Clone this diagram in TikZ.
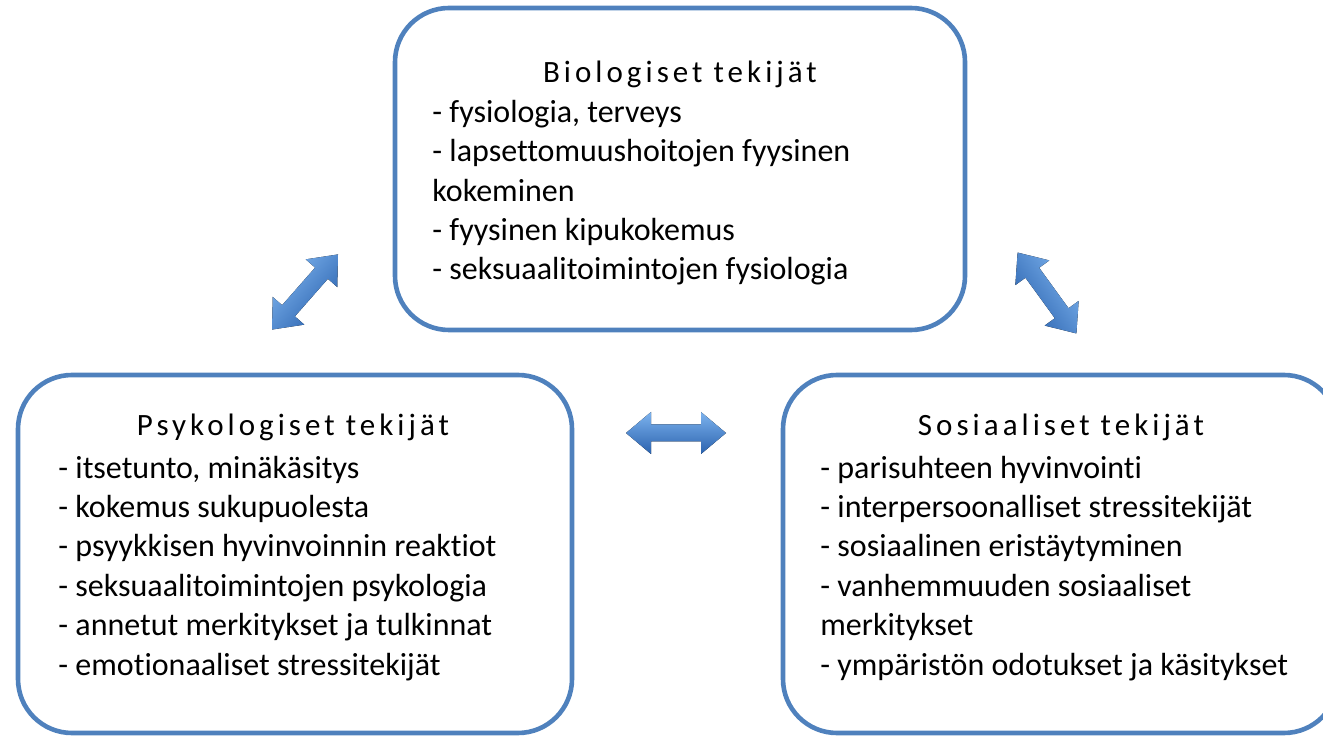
\documentclass[tikz,border=0pt]{standalone}
\usepackage{fontspec}
\setmainfont{Carlito}[Ligatures=NoCommon]
\newfontfamily\spacedfont[LetterSpace=13,Ligatures=NoCommon]{Carlito}
\usetikzlibrary{positioning}
\definecolor{boxblue}{HTML}{4F81BD}
\definecolor{arrowlight}{HTML}{7DB3EE}
\definecolor{arrowmid}{HTML}{4A88D4}
\definecolor{arrowdark}{HTML}{2A62AE}

\tikzset{
  factor/.style={draw=boxblue, line width=2.3pt, rounded corners=27pt, inner sep=0pt},
  heading/.style={font=\spacedfont\fontsize{15.5}{20}\selectfont, anchor=base, inner sep=0pt},
  items/.style={font=\fontsize{16}{19.7}\selectfont, align=left, anchor=base west, inner sep=0pt},
  biarrow/.style={top color=arrowlight, middle color=arrowmid, bottom color=arrowdark, draw=none}
}

\begin{document}
\begin{tikzpicture}[x=0.5pt,y=-0.5pt]
\useasboundingbox (0,0) rectangle (1323,737);
\clip (0,0) rectangle (1323,737);

% Factor boxes
\node[factor, minimum width=285pt, minimum height=161pt] (bio) at (680,169) {};
\node[factor, minimum width=277pt, minimum height=179pt] (psy) at (295,554) {};
\node[factor, minimum width=277.5pt, minimum height=179pt] (sos) at (1060.5,554) {};

% Headings
\node[heading] (bio title) at (680,83) {Biologiset tekijät};
\node[heading] (psy title) at (293,436) {Psykologiset tekijät};
\node[heading] (sos title) at (1061,436) {Sosiaaliset tekijät};

% Item lists (anchored at the last line)
\node[items] (bio items) at (432,280) {- fysiologia, terveys\\
  - lapsettomuushoitojen fyysinen\\ kokeminen\\
  - fyysinen kipukokemus\\
  - seksuaalitoimintojen fysiologia};
\node[items] (psy items) at (58,675) {- itsetunto, minäkäsitys\\
  - kokemus sukupuolesta\\
  - psyykkisen hyvinvoinnin reaktiot\\
  - seksuaalitoimintojen psykologia\\
  - annetut merkitykset ja tulkinnat\\
  - emotionaaliset stressitekijät};
\node[items] (sos items) at (820,675) {- parisuhteen hyvinvointi\\
  - interpersoonalliset stressitekijät\\
  - sosiaalinen eristäytyminen\\
  - vanhemmuuden sosiaaliset\\ merkitykset\\
  - ympäristön odotukset ja käsitykset};

% Two-way arrows between the boxes
\foreach \cx/\cy/\ang in {305/292/48.7, 1047/293/-54, 676/433/0}{
  \begin{scope}[shift={(\cx,\cy)}, rotate=\ang]
    \fill[biarrow, shading angle=\ang]
      (-50,0) -- (-25,-21) -- (-25,-8.5) -- (25,-8.5) -- (25,-21)
      -- (50,0) -- (25,21) -- (25,8.5) -- (-25,8.5) -- (-25,21) -- cycle;
  \end{scope}
}
\end{tikzpicture}
\end{document}
